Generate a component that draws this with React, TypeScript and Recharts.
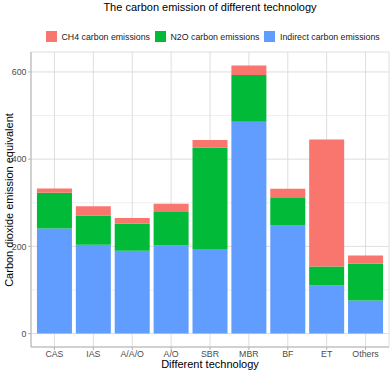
import { BarChart, Bar, XAxis, YAxis, CartesianGrid } from 'recharts';

// values
const technologies = ['CAS', 'IAS', 'A/A/O', 'A/O', 'SBR', 'MBR', 'BF', 'ET', 'Others'];
const indirectEmissions = [241, 204, 190, 202, 194, 486, 248, 110, 76];
const n2oEmissions = [82, 67, 62, 77, 233, 107, 63, 44, 84];
const ch4Emissions = [10, 21, 13, 19, 17, 22, 21, 291, 19];
const yTicks = [0, 200, 400, 600];
const yMinorTicks = [100, 300, 500];

const legendItems = [
    { name: 'CH4 carbon emissions', color: '#F8766D' },
    { name: 'N2O carbon emissions', color: '#00BA38' },
    { name: 'Indirect carbon emissions', color: '#619CFF' },
];

const data = technologies.map((tech, i) => ({
    tech,
    indirect: indirectEmissions[i],
    n2o: n2oEmissions[i],
    ch4: ch4Emissions[i],
}));

const FONT = '"Liberation Sans", Arial, sans-serif';
const BORDER = '#B3B3B3';
const GRID = '#DEDEDE';

export default function App() {
    return (
        <div style={{ position: 'absolute', left: 0, top: 0, width: 392, height: 373, fontFamily: FONT, background: '#fff' }}>
            <div style={{ position: 'absolute', left: 0, width: 420, top: 0, textAlign: 'center', fontSize: 11, lineHeight: '14px', color: '#000' }}>
                The carbon emission of different technology
            </div>

            <div style={{ position: 'absolute', left: 46, top: 31, display: 'flex', alignItems: 'center', fontSize: 8.8, color: '#1a1a1a' }}>
                {legendItems.map((item) => (
                    <div key={item.name} style={{ display: 'flex', alignItems: 'center', marginRight: 5 }}>
                        <div style={{ width: 11, height: 11, background: item.color, marginRight: 4.5 }} />
                        <span style={{ whiteSpace: 'nowrap' }}>{item.name}</span>
                    </div>
                ))}
            </div>

            <BarChart
                width={392}
                height={373}
                data={data}
                margin={{ top: 52, right: 3, bottom: 0, left: 0 }}
                barCategoryGap="5%"
            >
                <CartesianGrid horizontalValues={yMinorTicks} vertical={false} stroke={GRID} strokeWidth={0.5} />
                <CartesianGrid stroke={GRID} strokeWidth={1} />
                <XAxis
                    dataKey="tech"
                    height={26}
                    padding={{ left: 4, right: 4 }}
                    tickSize={3}
                    tickMargin={0.5}
                    stroke={BORDER}
                    tick={{ fill: '#4D4D4D', fontSize: 8.8, fontFamily: FONT }}
                    interval={0}
                />
                <XAxis xAxisId="top" dataKey="tech" orientation="top" height={0} tick={false} tickLine={false} stroke={BORDER} />
                <YAxis
                    width={31}
                    domain={[-30.75, 645.75]}
                    ticks={yTicks}
                    allowDataOverflow
                    tickSize={3}
                    tickMargin={1.5}
                    stroke={BORDER}
                    tick={{ fill: '#4D4D4D', fontSize: 8.8, fontFamily: FONT }}
                />
                <YAxis yAxisId="right" orientation="right" width={0} domain={[-30.75, 645.75]} tick={false} tickLine={false} stroke={BORDER} />
                <Bar dataKey="indirect" stackId="a" fill="#619CFF" isAnimationActive={false} />
                <Bar dataKey="n2o" stackId="a" fill="#00BA38" isAnimationActive={false} />
                <Bar dataKey="ch4" stackId="a" fill="#F8766D" isAnimationActive={false} />
            </BarChart>

            <div style={{ position: 'absolute', left: 0, width: 420, top: 357.5, textAlign: 'center', fontSize: 11, lineHeight: '12px', color: '#000' }}>
                Different technology
            </div>
            <div
                style={{
                    position: 'absolute',
                    left: 9,
                    top: 199.5,
                    transform: 'translate(-50%, -50%) rotate(-90deg)',
                    whiteSpace: 'nowrap',
                    fontSize: 11,
                    lineHeight: '14px',
                    color: '#000',
                }}
            >
                Carbon dioxide emission equivalent
            </div>
        </div>
    );
}
